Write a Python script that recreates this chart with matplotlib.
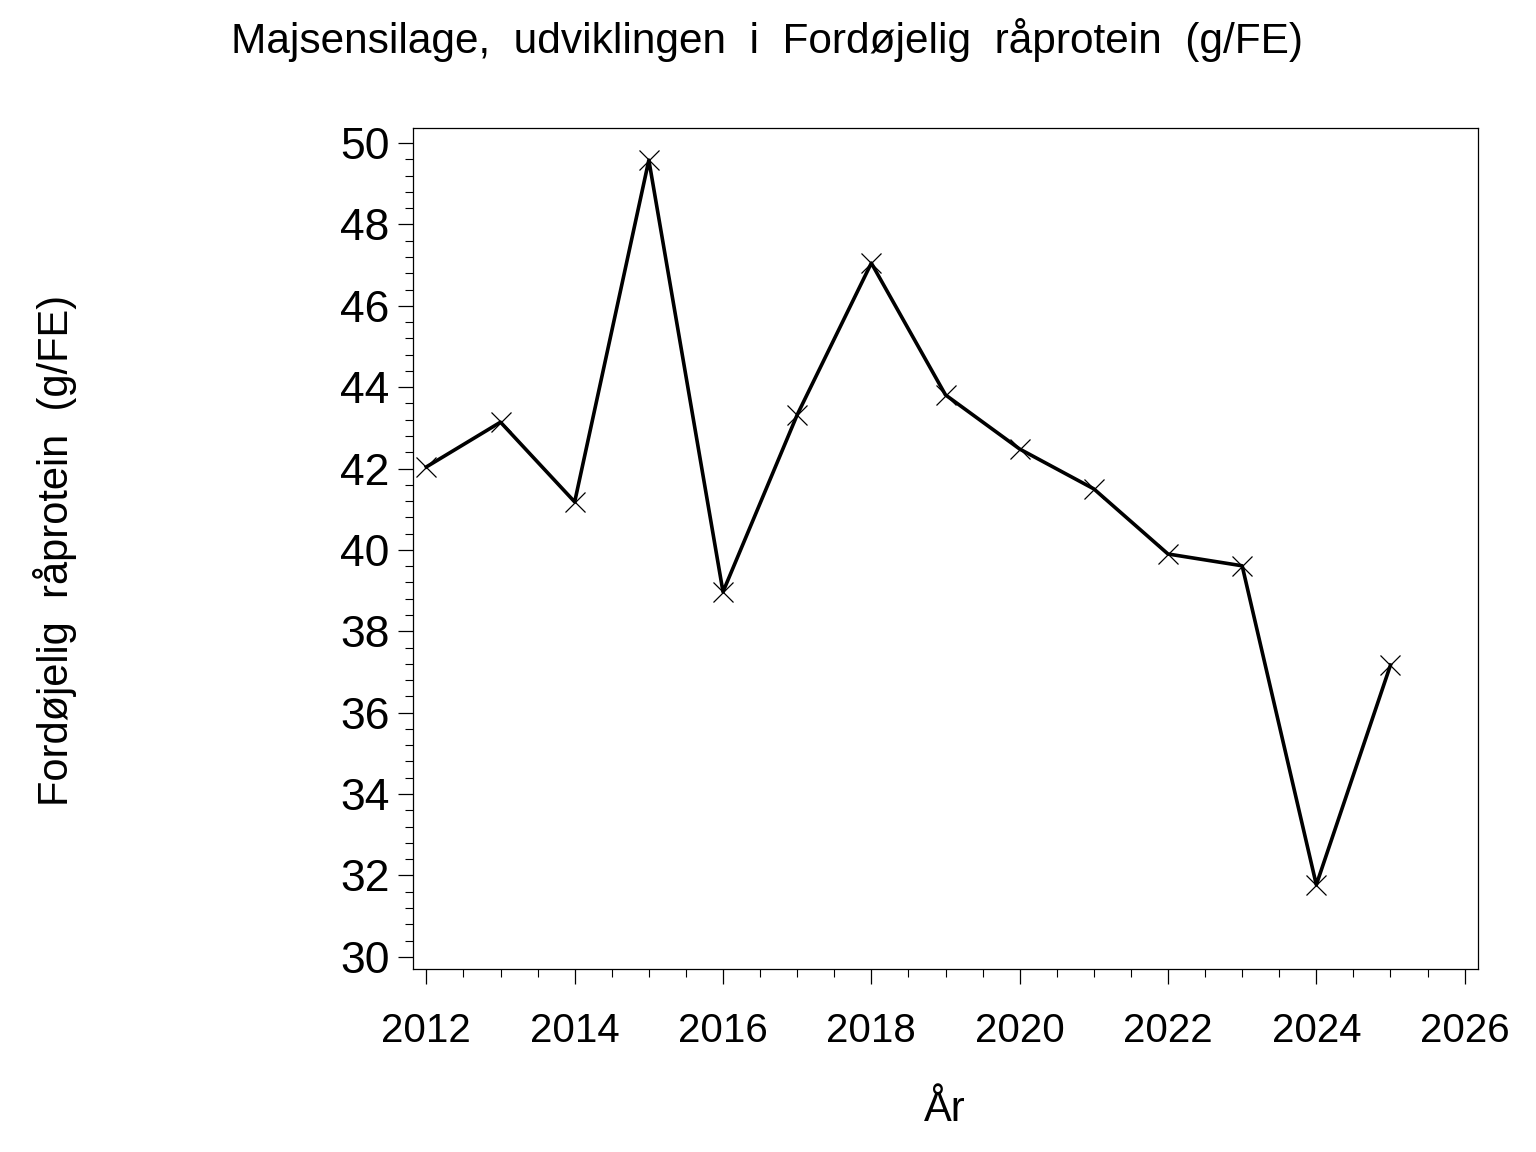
import matplotlib
matplotlib.use("Agg")
import matplotlib.pyplot as plt
from matplotlib.ticker import MultipleLocator

years = [2012, 2013, 2014, 2015, 2016, 2017, 2018, 2019, 2020, 2021, 2022, 2023, 2024, 2025]
values = [42.04, 43.14, 41.18, 49.58, 38.97, 43.32, 47.05, 43.81, 42.48, 41.50, 39.90, 39.61, 31.77, 37.17]

title = "Majsensilage,  udviklingen  i  Fordøjelig  råprotein  (g/FE)"
ylabel = "Fordøjelig  råprotein  (g/FE)"
xlabel = "År"

plt.rcParams['font.family'] = ['Liberation Sans', 'DejaVu Sans']

fig = plt.figure(figsize=(15.36, 11.52), dpi=100)
ax = fig.add_axes([413/1536, 1-969/1152, (1478-413)/1536, (969-128)/1152])

ax.plot(years, values, color='black', linewidth=2.6, marker='x', markersize=14,
        markeredgewidth=0.9, markeredgecolor='black')

ax.set_xlim(2011.82, 2026.18)
ax.set_ylim(29.7, 50.37)
ax.xaxis.set_major_locator(MultipleLocator(2))
ax.xaxis.set_minor_locator(MultipleLocator(0.5))
ax.yaxis.set_major_locator(MultipleLocator(2))
ax.yaxis.set_minor_locator(MultipleLocator(0.4))

for s in ax.spines.values():
    s.set_linewidth(0.9)

ax.tick_params(axis='both', which='major', direction='out', length=11, width=0.9)
ax.tick_params(axis='both', which='minor', direction='out', length=5.5, width=0.8)
ax.tick_params(axis='x', which='major', pad=20, labelsize=29)
ax.tick_params(axis='y', which='major', pad=6, labelsize=32)

fig.text(767/1536, 1-40/1152, title, ha='center', va='center', fontsize=30.5)
fig.text(55/1536, 1-550/1152, ylabel, ha='center', va='center', rotation=90, fontsize=30)
fig.text(945/1536, 1-1110/1152, xlabel, ha='center', va='center', fontsize=30)

fig.savefig('out.png', dpi=100)
